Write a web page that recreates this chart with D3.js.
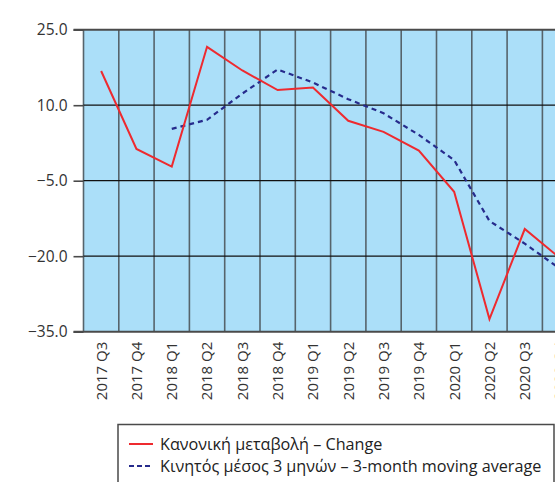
<!DOCTYPE html>
<html>
<head>
<meta charset="utf-8">
<script src="https://cdn.jsdelivr.net/npm/d3@7"></script>
<style>
  html, body { margin: 0; padding: 0; background: #fff; overflow: hidden; }
  svg { display: block; font-family: "Open Sans", "Noto Sans", sans-serif; }
</style>
</head>
<body>
<svg id="chart" width="555" height="482"></svg>
<script>
// Quarterly series
const quarters = ["2017 Q3", "2017 Q4", "2018 Q1", "2018 Q2", "2018 Q3", "2018 Q4",
  "2019 Q1", "2019 Q2", "2019 Q3", "2019 Q4", "2020 Q1", "2020 Q2", "2020 Q3", "2020 Q4"];
const change = [16.8, 1.3, -2.2, 21.6, 16.9, 13.0, 13.5, 6.9, 4.7, 1.0, -7.2, -32.5, -14.6, -20.4];
const movingAvg = [null, null, 5.3, 7.1, 12.3, 17.1, 14.5, 11.2, 8.4, 4.1, -0.9, -13.0, -17.5, -22.5];
const yTicks = [25, 10, -5, -20, -35];
const legendLabels = ["Κανονική μεταβολή – Change", "Κινητός μέσος 3 μηνών – 3-month moving average"];

const svg = d3.select("#chart");
const plot = { left: 83.5, top: 29.7, bottom: 331.7, band: 35.3 };
plot.right = plot.left + plot.band * quarters.length;

const x = d3.scaleBand().domain(quarters).range([plot.left, plot.right]).padding(0);
const y = d3.scaleLinear().domain([-35, 25]).range([plot.bottom, plot.top]);
const cx = d => x(d) + x.bandwidth() / 2;

// plot background
svg.append("rect")
  .attr("x", plot.left).attr("y", plot.top)
  .attr("width", plot.right - plot.left).attr("height", plot.bottom - plot.top)
  .attr("fill", "#abdff9");

// vertical category separators
svg.append("g").selectAll("line")
  .data(quarters)
  .join("line")
  .attr("x1", d => x(d)).attr("x2", d => x(d))
  .attr("y1", plot.top).attr("y2", plot.bottom)
  .attr("stroke", "#56646c").attr("stroke-width", 1.6);

// horizontal value gridlines
svg.append("g").selectAll("line")
  .data(yTicks.filter(v => v !== 25 && v !== -35))
  .join("line")
  .attr("x1", plot.left).attr("x2", plot.right)
  .attr("y1", d => y(d)).attr("y2", d => y(d))
  .attr("stroke", "#111").attr("stroke-width", 1.3);

// top and bottom frame lines
[25, -35].forEach(v => {
  svg.append("line")
    .attr("x1", plot.left - 10).attr("x2", plot.right)
    .attr("y1", y(v)).attr("y2", y(v))
    .attr("stroke", "#4a4a4a").attr("stroke-width", 2);
});

// y axis
const yAxis = d3.axisLeft(y).tickValues(yTicks).tickSize(10).tickPadding(6)
  .tickFormat(d3.format(".1f"));
const yg = svg.append("g").attr("transform", `translate(${plot.left},0)`).call(yAxis);
yg.select(".domain").remove();
yg.selectAll(".tick line").attr("stroke", "#4a4a4a").attr("stroke-width", 1.6);
yg.selectAll(".tick text").attr("fill", "#333").style("font-size", "15.5px")
  .style("font-family", "'Open Sans', sans-serif");

// x axis labels (rotated)
const xAxis = d3.axisBottom(x).tickSize(0).tickPadding(0);
const xg = svg.append("g").attr("transform", `translate(0,${plot.bottom})`).call(xAxis);
xg.select(".domain").remove();
xg.selectAll(".tick text")
  .attr("transform", "rotate(-90)")
  .attr("text-anchor", "end")
  .attr("x", -10).attr("y", 0).attr("dy", "0.36em").attr("dx", 0)
  .attr("fill", "#333").style("font-size", "15px")
  .style("font-family", "'Open Sans', sans-serif");

// series lines
const line = d3.line()
  .defined(d => d.v !== null)
  .x(d => cx(d.q)).y(d => y(d.v));

svg.append("path")
  .datum(quarters.map((q, i) => ({ q, v: movingAvg[i] })))
  .attr("d", line)
  .attr("fill", "none").attr("stroke", "#262b8c").attr("stroke-width", 2.2)
  .attr("stroke-dasharray", "5,4");

svg.append("path")
  .datum(quarters.map((q, i) => ({ q, v: change[i] })))
  .attr("d", line)
  .attr("fill", "none").attr("stroke", "#ee2a2f").attr("stroke-width", 2);

// legend
const lg = svg.append("g");
lg.append("rect")
  .attr("x", 118).attr("y", 424.5).attr("width", 436).attr("height", 70)
  .attr("fill", "#fff").attr("stroke", "#4a4a4a").attr("stroke-width", 1.5);
const styles = [
  { stroke: "#ee2a2f", dash: null },
  { stroke: "#262b8c", dash: "5,3" }
];
legendLabels.forEach((t, i) => {
  const ly = 444 + i * 22;
  lg.append("line")
    .attr("x1", 129).attr("x2", 153).attr("y1", ly).attr("y2", ly)
    .attr("stroke", styles[i].stroke).attr("stroke-width", 2)
    .attr("stroke-dasharray", styles[i].dash);
  lg.append("text")
    .attr("x", 160).attr("y", ly).attr("dy", "0.35em")
    .attr("fill", "#222").style("font-size", "16.2px")
    .text(t);
});
</script>
</body>
</html>
